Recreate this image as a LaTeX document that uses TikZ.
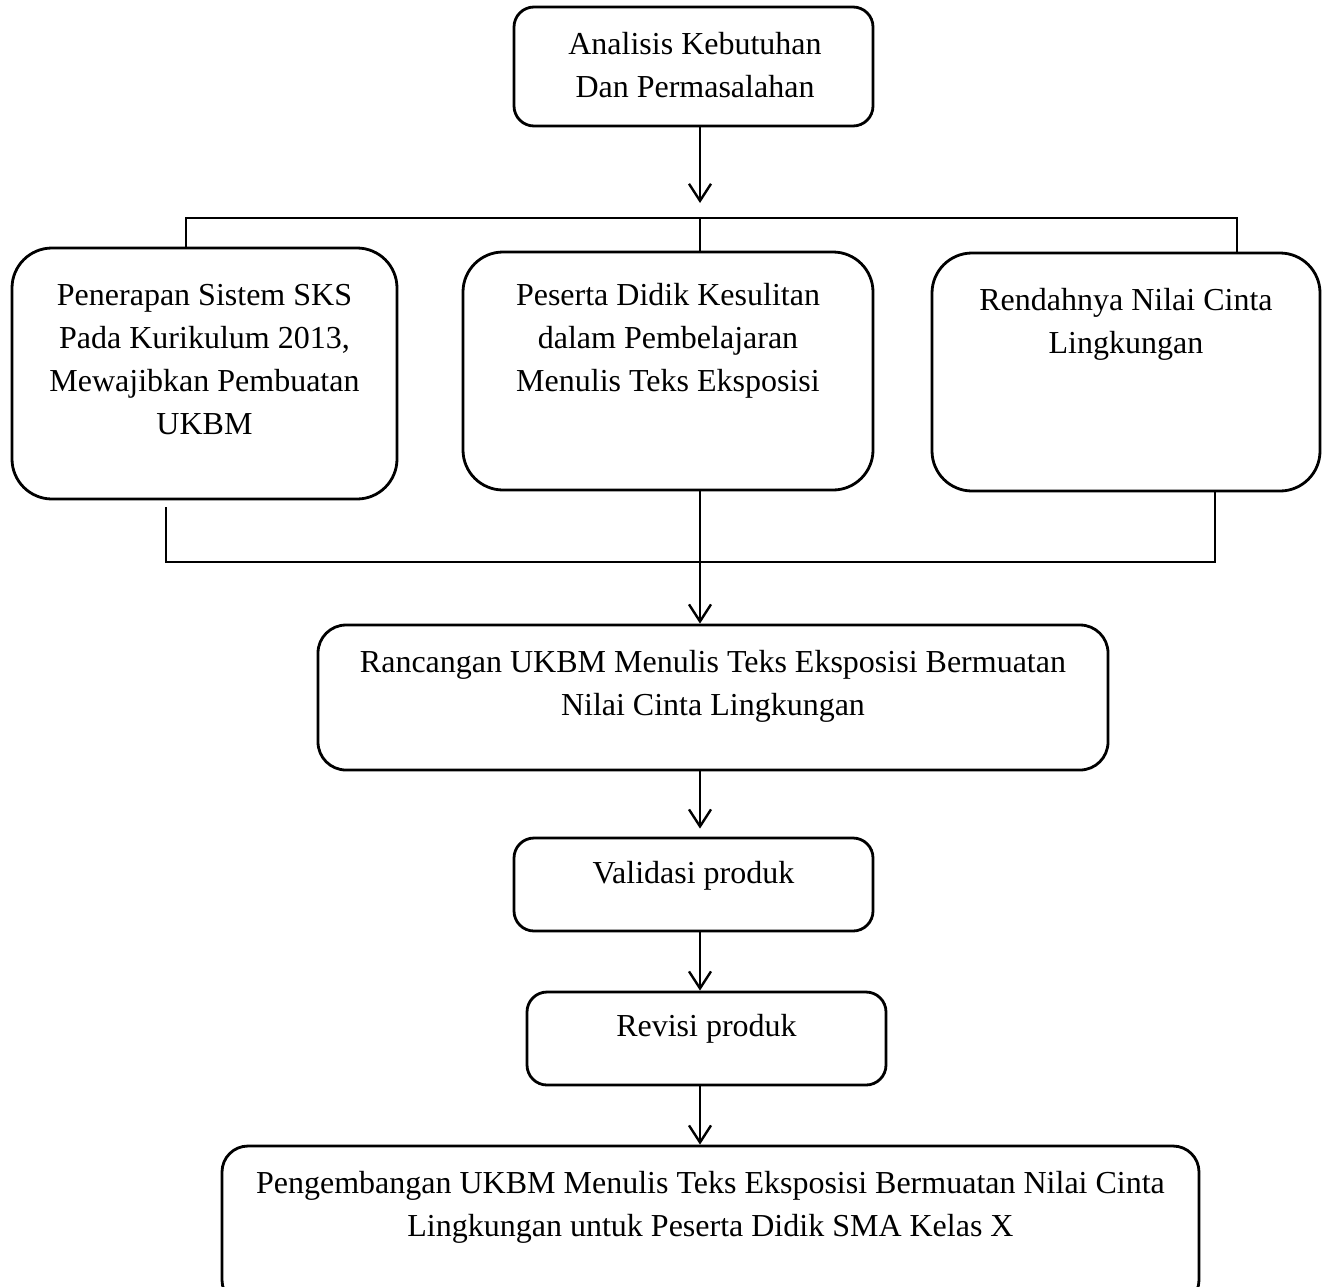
\documentclass[tikz,border=0pt]{standalone}
\usepackage{fontspec}
\setmainfont{Liberation Serif}
\usetikzlibrary{arrows.meta}
\begin{document}
\begin{tikzpicture}[x=1pt,y=-1pt,
  box/.style={draw=black, line width=2.8pt, rectangle, inner sep=0pt, fill=none},
  txt/.style={font=\fontsize{32}{43}\selectfont, align=center, inner sep=0pt, anchor=base},
  conn/.style={draw=black, line width=2pt},
  arr/.style={draw=black, line width=2.4pt, -{Straight Barb[length=17pt,width=22pt]}}]
\useasboundingbox (0,0) rectangle (1324,1286);
\clip (0,0) rectangle (1324,1286);
\fill[white] (0,0) rectangle (1324,1286);
% boxes
\node[box, minimum width=359pt, minimum height=119pt, rounded corners=20pt] (A) at (693.5,66.5) {};
\node[box, minimum width=385pt, minimum height=251pt, rounded corners=40pt] (B1) at (204.5,373.5) {};
\node[box, minimum width=410pt, minimum height=238pt, rounded corners=40pt] (B2) at (668,371) {};
\node[box, minimum width=388pt, minimum height=238pt, rounded corners=40pt] (B3) at (1126,372) {};
\node[box, minimum width=790pt, minimum height=145pt, rounded corners=28pt] (R) at (713,697.5) {};
\node[box, minimum width=359pt, minimum height=93pt, rounded corners=20pt] (V) at (693.5,884.5) {};
\node[box, minimum width=359pt, minimum height=93pt, rounded corners=20pt] (Rv) at (706.5,1038.5) {};
\node[box, minimum width=977pt, minimum height=160pt, rounded corners=26pt] (P) at (710.5,1226) {};
% texts (anchor base = baseline of last line)
\node[txt] (tA) at (695,97) {Analisis Kebutuhan\\Dan Permasalahan};
\node[txt] (tB1) at (204.5,434) {Penerapan Sistem SKS\\Pada Kurikulum 2013,\\Mewajibkan Pembuatan\\UKBM};
\node[txt] (tB2) at (668,391) {Peserta Didik Kesulitan\\dalam Pembelajaran\\Menulis Teks Eksposisi};
\node[txt] (tB3) at (1126,353) {Rendahnya Nilai Cinta\\Lingkungan};
\node[txt] (tR) at (713,715) {Rancangan UKBM Menulis Teks Eksposisi Bermuatan\\Nilai Cinta Lingkungan};
\node[txt] (tV) at (693.5,883) {Validasi produk};
\node[txt] (tRv) at (706.5,1036) {Revisi produk};
\node[txt] (tP) at (710.5,1236) {Pengembangan UKBM Menulis Teks Eksposisi Bermuatan Nilai Cinta\\Lingkungan untuk Peserta Didik SMA Kelas X};
% coordinates
\coordinate (spine) at (700,0);
\coordinate (aEnd) at (700,203);
\coordinate (t1) at (186,218);
\coordinate (t2) at (700,218);
\coordinate (t3) at (1237,218);
\coordinate (b1) at (166,562);
\coordinate (b3) at (1215,562);
% connectors
\draw[arr] (A.south -| spine) -- (aEnd);
\draw[conn] (B1.north -| t1) -- (t1) -- (t3) -- (B3.north -| t3);
\draw[conn] (t2) -- (B2.north -| t2);
\draw[conn] ([yshift=-7pt]B1.south -| b1) -- (b1) -- (b3) -- (B3.south -| b3);
\draw[arr] (B2.south -| spine) -- (R.north -| spine);
\draw[arr, shorten >=8pt] (R.south -| spine) -- (V.north -| spine);
\draw[arr] (V.south -| spine) -- (Rv.north -| spine);
\draw[arr] (Rv.south -| spine) -- (P.north -| spine);
\end{tikzpicture}
\end{document}
